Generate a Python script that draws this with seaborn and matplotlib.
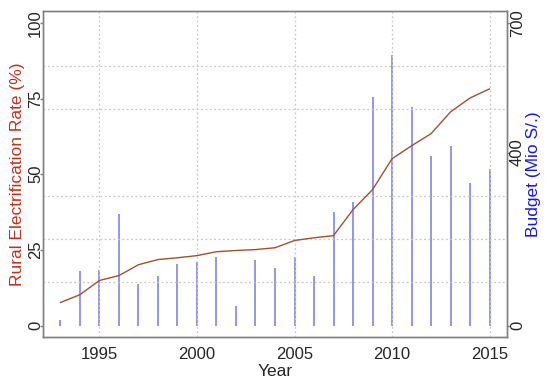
import matplotlib
matplotlib.use("Agg")
import matplotlib.pyplot as plt
import seaborn as sns
import pandas as pd
from matplotlib.ticker import MultipleLocator

years = list(range(1993, 2016))
electrification = [7.6, 10.2, 14.9, 16.5, 20.1, 21.8, 22.4, 23.1, 24.4, 24.8, 25.1,
                   25.7, 28.1, 29.0, 29.7, 38.3, 44.9, 55.1, 59.4, 63.4, 70.6, 75.2, 78.2]
budget = [12, 127, 129, 259, 97, 115, 143, 146, 159, 46, 152, 132, 159, 115, 263,
          286, 529, 626, 506, 393, 416, 330, 363]

left_ticks = [0, 25, 50, 75, 100]
right_ticks = [0, 400, 700]
x_ticks = [1995, 2000, 2005, 2010, 2015]

df = pd.DataFrame({"Year": years, "Rate": electrification, "Budget": budget})

sns.set_style("white")
plt.rcParams['font.family'] = ['Liberation Sans', 'DejaVu Sans']

fig = plt.figure(figsize=(5.5, 3.83), dpi=100)
ax = fig.add_axes([0.078, 0.12, 0.844, 0.851])
ax2 = ax.twinx()

# budget bars (thin vertical lines) on right axis
ax2.vlines(df["Year"], 0, df["Budget"], color="#4040e0", alpha=0.7, linewidth=1.1, zorder=2)

ylo, yhi = -3.8, 103.9
ax.set_ylim(ylo, yhi)
ax2.set_ylim(ylo * 7, yhi * 7)
ax.set_xlim(1992.1, 2015.9)

# grid on top (dotted, light gray)
grid_style = dict(color="#c8c8c8", linestyle=(0, (1.5, 2)), linewidth=0.9, zorder=3)
ax2.yaxis.set_minor_locator(MultipleLocator(100))
ax2.grid(which="minor", axis="y", **grid_style)
ax2.set_axisbelow(False)
for xv in x_ticks:
    ax2.axvline(xv, **grid_style)

# rural electrification line on left axis, drawn above
ax.set_zorder(ax2.get_zorder() + 1)
ax.patch.set_visible(False)
sns.lineplot(data=df, x="Year", y="Rate", ax=ax, color="#a0522d", linewidth=1.0, zorder=4)

ax.set_yticks(left_ticks)
ax.set_xticks(x_ticks)
ax2.set_yticks(right_ticks)

for a in (ax, ax2):
    for s in a.spines.values():
        s.set_color("#808080")
        s.set_linewidth(1.0)
ax.tick_params(axis="x", which="major", direction="out", length=4, color="#808080",
               labelsize=12, width=1)
ax.tick_params(axis="y", which="major", direction="out", length=2.5, color="#808080",
               labelsize=12, width=1, pad=-2.5)
ax2.tick_params(axis="y", which="major", direction="out", length=2.5, color="#808080",
                labelsize=12, width=1, pad=-0.5)
ax2.tick_params(axis="y", which="minor", length=0)
for lab in ax.get_yticklabels():
    lab.set_rotation(90)
    lab.set_va("center")
for lab in ax2.get_yticklabels():
    lab.set_rotation(90)
    lab.set_va("center")

ax.set_xlabel("Year", fontsize=12.5, labelpad=1)
ax.set_ylabel("Rural Electrification Rate (%)", fontsize=12.5, color="#c0321e")
ax2.set_ylabel("Budget (Mio S/.)", fontsize=12.5, color="#1a1adb", rotation=90)
ax.yaxis.set_label_coords(-0.039, 0.5)
ax2.yaxis.set_label_coords(1.041, 0.5)

fig.savefig("out.png", dpi=100)
